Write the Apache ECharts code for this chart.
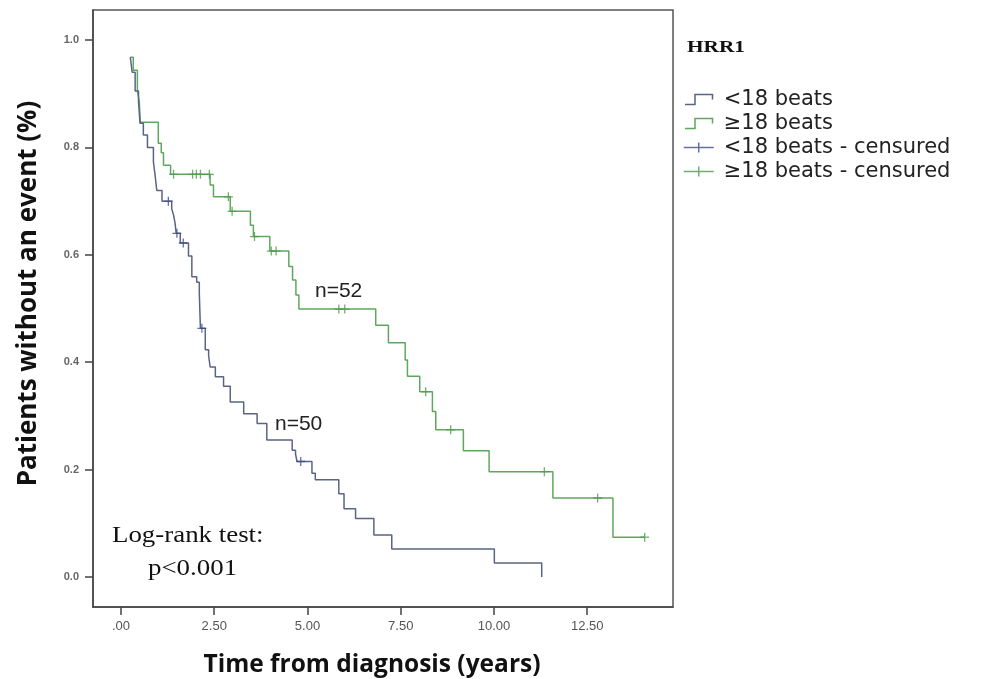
<!DOCTYPE html>
<html><head><meta charset="utf-8">
<script src="https://cdn.jsdelivr.net/npm/echarts@6/dist/echarts.min.js"></script>
<style>html,body{margin:0;padding:0;background:#fff}#c{width:981px;height:679px}</style>
</head><body><div id="c"></div>
<script>
// ---- data ----
const lowName = '<18 beats';
const highName = '\u226518 beats';
const lowCensName = '<18 beats - censured';
const highCensName = '\u226518 beats - censured';

// Kaplan-Meier steps: time (years) where survival drops, and survival after the drop
const lowTimes = [0.25,0.30,0.38,0.47,0.51,0.60,0.71,0.87,0.92,0.96,1.10,1.36,1.41,1.45,1.48,1.59,1.81,1.90,2.03,2.10,2.13,2.26,2.35,2.39,2.53,2.75,2.93,3.29,3.65,3.91,4.59,4.68,4.72,5.12,5.21,5.84,5.98,6.29,6.78,7.26,10.01,11.28];
const lowSurv  = [0.968,0.940,0.905,0.885,0.845,0.823,0.800,0.773,0.745,0.720,0.700,0.686,0.674,0.659,0.640,0.622,0.598,0.559,0.549,0.528,0.463,0.423,0.412,0.391,0.373,0.355,0.326,0.304,0.286,0.255,0.236,0.229,0.215,0.193,0.181,0.155,0.127,0.109,0.078,0.052,0.026,0.000];
const lowCensTimes = [1.27,1.50,1.67,2.17,4.82];

const highTimes = [0.25,0.33,0.44,0.49,0.52,1.00,1.08,1.14,1.33,2.39,2.48,2.93,3.47,3.55,3.99,4.50,4.60,4.69,4.77,6.83,7.17,7.62,7.68,8.01,8.35,8.44,9.18,9.87,11.58,13.19,14.04];
const highSurv  = [0.968,0.944,0.905,0.886,0.847,0.808,0.790,0.767,0.750,0.730,0.708,0.681,0.655,0.634,0.607,0.578,0.553,0.525,0.499,0.469,0.436,0.404,0.374,0.345,0.308,0.274,0.235,0.196,0.147,0.074,0.074];
const highCensTimes = [1.41,1.92,2.02,2.13,2.37,2.88,2.98,3.58,4.03,4.16,5.84,6.00,8.17,8.84,11.35,12.78,14.04];

const xTicks = [0,2.5,5,7.5,10,12.5];
const xTickLabels = ['.00','2.50','5.00','7.50','10.00','12.50'];
const yTicks = [0,0.2,0.4,0.6,0.8,1.0];
const yTickLabels = ['0.0','0.2','0.4','0.6','0.8','1.0'];

// ---- helpers ----
function pairs(t, s){ return t.map((v,i)=>[v, s[i]]); }
function survAt(t, s, time){ let v = s[0]; for(let i=0;i<t.length;i++){ if(t[i] <= time + 1e-9) v = s[i]; } return v; }
function cens(ct, t, s){ return ct.map(c=>[c, survAt(t, s, c)]); }

const blue = '#5a6484';
const blueC = '#3f4b86';
const green = '#5ea85e';
const greenC = '#4f9a4f';
const plus = 'path://M0,5 L10,5 M5,0 L5,10';
const stepIcon = 'path://M0,9 L8,9 L8,1 L22,1 L22,5';
const crossIcon = 'path://M0,6 L30,6 M15,1 L15,11';

const chart = echarts.init(document.getElementById('c'));
chart.setOption({
  backgroundColor: '#fff',
  animation: false,
  grid: { left: 93, right: 308, top: 10, bottom: 72, containLabel: false, outerBoundsMode: 'none',
    show: true, borderColor: '#555', borderWidth: 1.5, backgroundColor: 'transparent' },
  xAxis: {
    type: 'value', min: -0.75, max: 14.8,
    name: 'Time from diagnosis (years)', nameLocation: 'middle', nameGap: 46,
    nameTextStyle: { fontFamily: 'Open Sans', fontWeight: 'bold', fontSize: 24.5, color: '#111', padding: [0, 22, 0, 0] },
    axisLine: { show: true, onZero: false, lineStyle: { color: '#444', width: 1.5 } },
    axisTick: { show: true, customValues: xTicks, length: 8, lineStyle: { color: '#444', width: 1.5 } },
    axisLabel: { customValues: xTicks, margin: 13, fontSize: 13, color: '#555', fontFamily: 'Liberation Sans',
      formatter: v => xTickLabels[xTicks.indexOf(v)] },
    splitLine: { show: false }
  },
  yAxis: {
    type: 'value', min: -0.056, max: 1.056,
    name: 'Patients without an event (%)', nameLocation: 'middle', nameGap: 51, nameRotate: 90,
    nameTextStyle: { fontFamily: 'Open Sans', fontWeight: 'bold', fontSize: 26, color: '#111', padding: [0, 0, 0, 30] },
    axisLine: { show: true, onZero: false, lineStyle: { color: '#444', width: 1.5 } },
    axisTick: { show: true, customValues: yTicks, length: 8, lineStyle: { color: '#444', width: 1.5 } },
    axisLabel: { customValues: yTicks, margin: 14, fontSize: 11, color: '#666', fontFamily: 'Liberation Sans', fontWeight: 'bold',
      formatter: v => yTickLabels[yTicks.findIndex(t => Math.abs(t - v) < 1e-6)] },
    splitLine: { show: false }
  },
  legend: {
    orient: 'vertical', left: 678, top: 84, itemWidth: 30, itemHeight: 10, itemGap: 3,
    selectedMode: false,
    textStyle: { fontFamily: 'DejaVu Sans', fontSize: 21, color: '#222', lineHeight: 16, padding: [0,0,0,5] },
    data: [
      { name: lowName, icon: stepIcon, itemStyle: { color: 'rgba(0,0,0,0)', borderColor: blue, borderWidth: 1.5 } },
      { name: highName, icon: stepIcon, itemStyle: { color: 'rgba(0,0,0,0)', borderColor: green, borderWidth: 1.5 } },
      { name: lowCensName, icon: crossIcon, itemStyle: { color: 'rgba(0,0,0,0)', borderColor: blueC, borderWidth: 1.5 } },
      { name: highCensName, icon: crossIcon, itemStyle: { color: 'rgba(0,0,0,0)', borderColor: greenC, borderWidth: 1.5 } }
    ]
  },
  graphic: [
    { type: 'text', x: 687, y: 48, scaleX: 1.25, style: { text: 'HRR1', font: 'bold 17px "Liberation Serif"', fill: '#111', verticalAlign: 'middle' } },
    { type: 'text', x: 315, y: 291, style: { text: 'n=52', font: '21px "Liberation Sans"', fill: '#222', verticalAlign: 'middle' } },
    { type: 'text', x: 275, y: 424, style: { text: 'n=50', font: '21px "Liberation Sans"', fill: '#222', verticalAlign: 'middle' } },
    { type: 'text', x: 112, y: 536, scaleX: 1.12, style: { text: 'Log-rank test:', font: '24px "Liberation Serif"', fill: '#111', verticalAlign: 'middle' } },
    { type: 'text', x: 148, y: 569, scaleX: 1.12, style: { text: 'p<0.001', font: '24px "Liberation Serif"', fill: '#111', verticalAlign: 'middle' } }
  ],
  series: [
    { name: lowName, type: 'line', step: 'end', showSymbol: false, symbol: 'none', data: pairs(lowTimes, lowSurv),
      lineStyle: { color: blue, width: 1.5 }, itemStyle: { color: blue }, z: 3 },
    { name: highName, type: 'line', step: 'end', showSymbol: false, symbol: 'none', data: pairs(highTimes, highSurv),
      lineStyle: { color: green, width: 1.5 }, itemStyle: { color: green }, z: 2 },
    { name: lowCensName, type: 'scatter', symbol: plus, symbolSize: 9, data: cens(lowCensTimes, lowTimes, lowSurv),
      itemStyle: { color: 'rgba(0,0,0,0)', borderColor: blueC, borderWidth: 1.3 }, z: 4 },
    { name: highCensName, type: 'scatter', symbol: plus, symbolSize: 9, data: cens(highCensTimes, highTimes, highSurv),
      itemStyle: { color: 'rgba(0,0,0,0)', borderColor: greenC, borderWidth: 1.3 }, z: 4 }
  ]
});
</script>
</body></html>
